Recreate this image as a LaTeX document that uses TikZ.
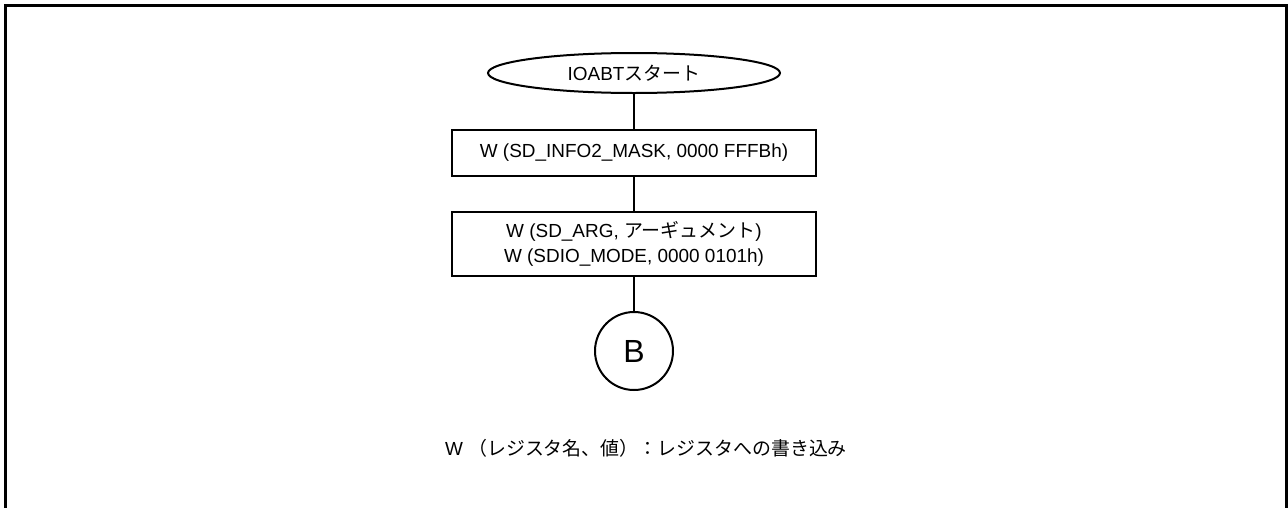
\documentclass[tikz,border=0pt]{standalone}
\usepackage{fontspec}
\setmainfont{Liberation Sans}
\newfontfamily\cjk{Noto Sans CJK JP}
\usetikzlibrary{shapes.geometric}
\tikzset{
  x=0.75pt, y=-0.75pt,
  base/.style={draw, line width=1.5pt, inner sep=0pt, align=center,
    font=\fontsize{14.2pt}{18.75pt}\selectfont},
  terminal/.style={base, ellipse, minimum width=219pt, minimum height=30pt},
  procbox/.style={base, rectangle, minimum width=273pt},
  connector/.style={base, circle, minimum size=58.5pt, font=\fontsize{24pt}{28pt}\selectfont},
  flow/.style={line width=1.5pt},
  frameline/.style={line width=2.25pt}
}
\begin{document}
\begin{tikzpicture}
\useasboundingbox (0,0) rectangle (1288,507);
\draw[frameline] (5.5,508) -- (5.5,5.5) -- (1286.5,5.5) -- (1286.5,508);
\node[terminal] (start) at (634,73) {IOABT{\cjk スタート}};
\node[procbox, minimum height=34.5pt] (b1) at (634,153) {W (SD\_INFO2\_MASK, 0000 FFFBh)};
\node[procbox, minimum height=48pt] (b2) at (634,244) {W (SD\_ARG, {\cjk アーギュメント})\\W (SDIO\_MODE, 0000 0101h)};
\node[connector] (cb) at (634,351) {B};
\draw[flow] (start.south) -- (b1.north);
\draw[flow] (b1.south) -- (b2.north);
\draw[flow] (b2.south) -- (cb.north);
\node[font=\fontsize{14.2pt}{18.75pt}\selectfont, inner sep=0pt] (note) at (646,448) {W {\cjk （レジスタ名、値）：レジスタへの書き込み}};
\end{tikzpicture}
\end{document}
